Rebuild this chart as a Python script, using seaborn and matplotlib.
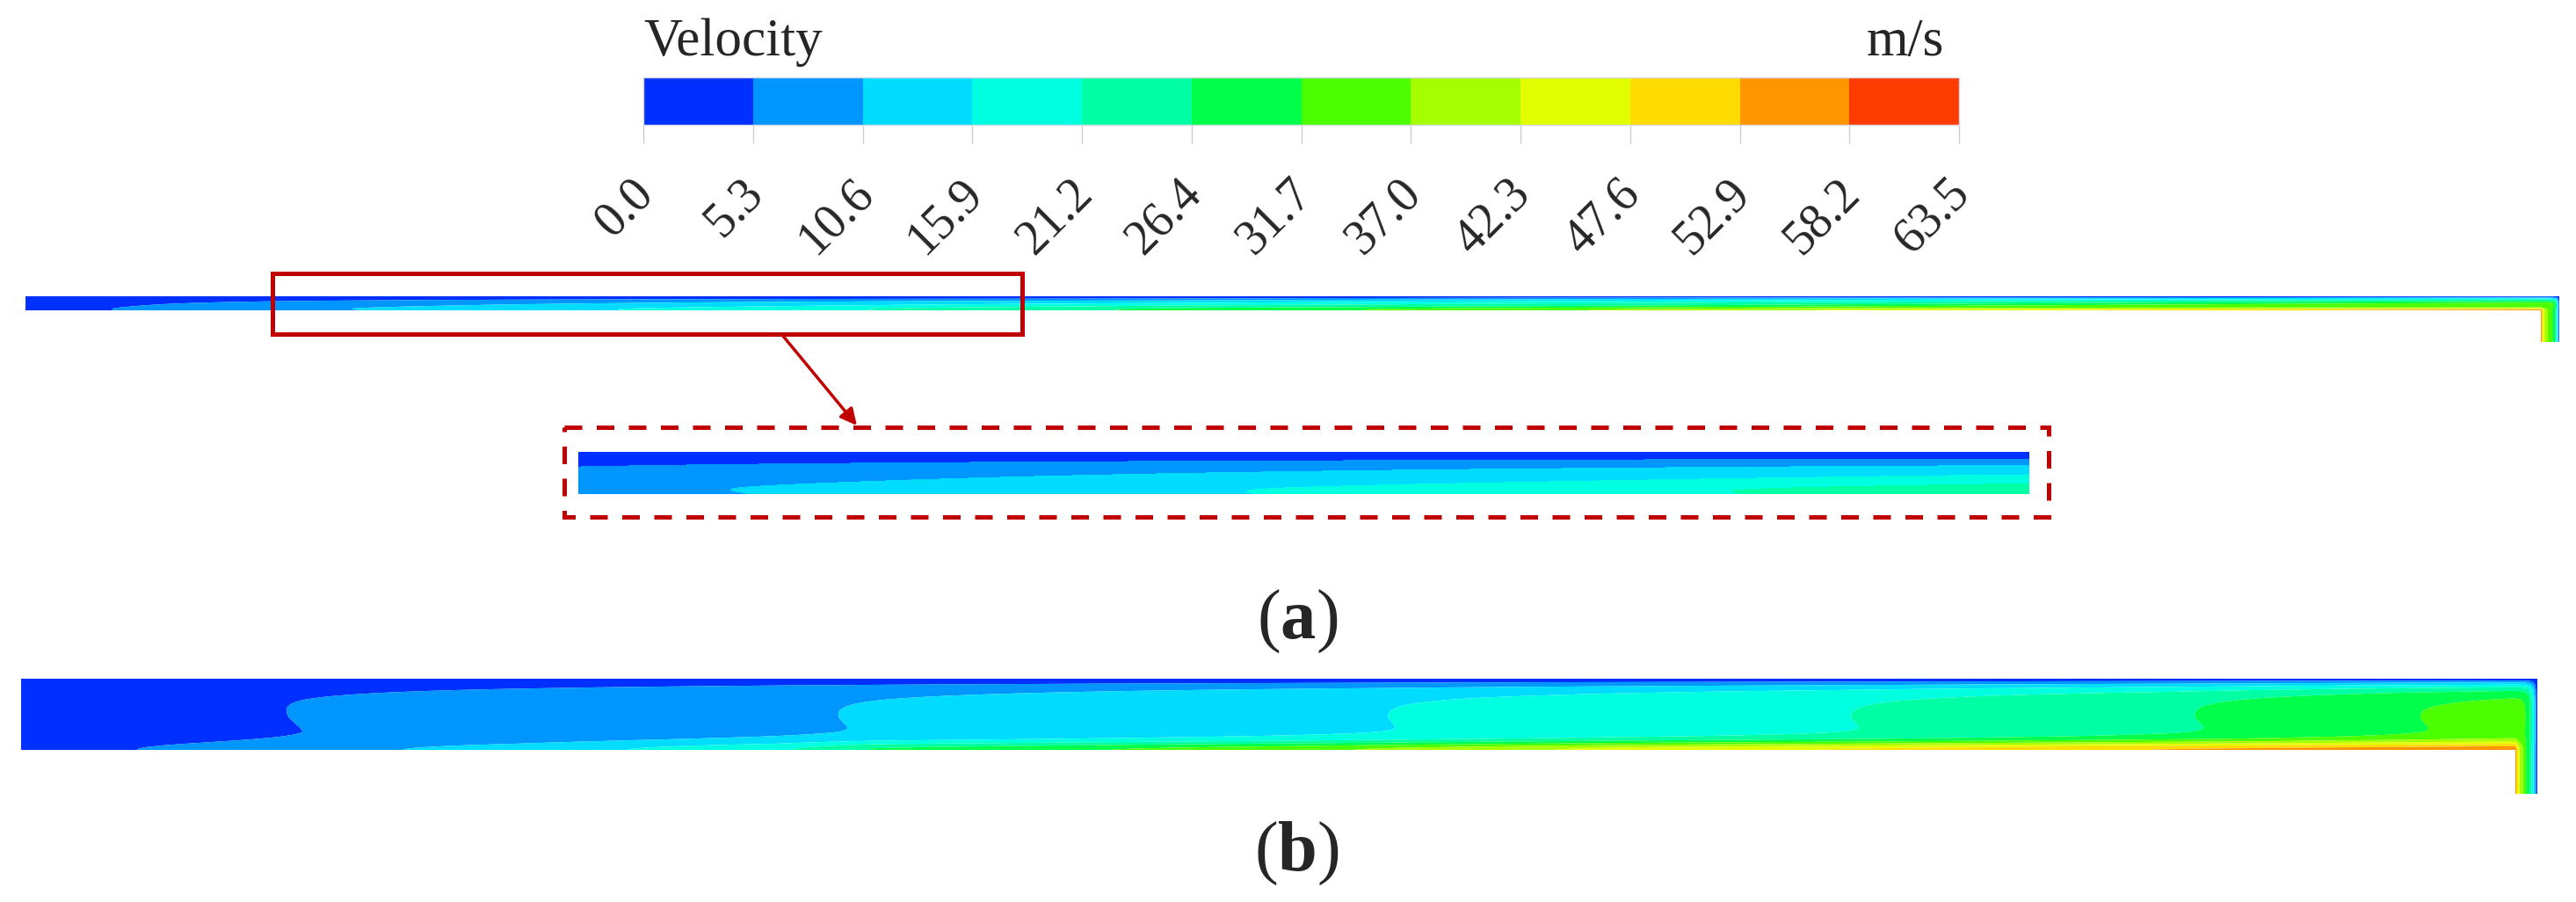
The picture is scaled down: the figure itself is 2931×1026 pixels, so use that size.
import numpy as np
import matplotlib
matplotlib.use("Agg")
import matplotlib.pyplot as plt
import matplotlib.transforms as mtransforms
from matplotlib.colors import ListedColormap, BoundaryNorm
from matplotlib.patches import Rectangle
import seaborn as sns

# colour bar
levels = [0.0, 5.3, 10.6, 15.9, 21.2, 26.4, 31.7, 37.0, 42.3, 47.6, 52.9, 58.2, 63.5]
tick_labels = ["0.0", "5.3", "10.6", "15.9", "21.2", "26.4", "31.7",
               "37.0", "42.3", "47.6", "52.9", "58.2", "63.5"]
band_colors = ["#0030ff", "#0096ff", "#00dcff", "#00ffe1", "#00ffa5", "#00ff4b",
               "#4bff00", "#a5ff00", "#e1ff00", "#ffdc00", "#ff9600", "#ff3c00"]

# panel (b): core velocity along the pipe (fraction of length)
core_pos_b = [0.0, 0.1, 0.318, 0.536, 0.72, 0.857, 0.946, 1.0]
core_vel_b = [2.0, 5.3, 10.6, 15.9, 21.2, 26.4, 31.7, 34.5]
# velocity next to the bottom wall
wall_pos_b = [0.0, 0.08, 0.2, 0.3, 0.34, 0.5, 0.65, 0.85, 1.0]
wall_vel_b = [3.0, 7.0, 13.0, 20.0, 27.0, 35.0, 45.0, 53.0, 57.0]
# how far the contours lag behind across the height (S shape)
lag_y_b = [0.0, 0.1, 0.25, 0.45, 0.7, 1.0]
lag_b = [0.0, 0.009, 0.013, 0.006, 0.0, 0.0]

# panel (a)
core_pos_a = [0.0, 0.06, 0.22, 0.42, 0.6, 0.78, 0.92, 1.0]
core_vel_a = [2.0, 5.3, 10.6, 15.9, 21.2, 26.4, 31.7, 34.0]
wall_pos_a = [0.0, 0.06, 0.2, 0.35, 0.5, 0.7, 0.88, 1.0]
wall_vel_a = [3.0, 7.0, 14.0, 22.0, 30.0, 42.0, 52.0, 56.0]

# outlet leg, across its width (inner wall -> outer wall)
leg_pos = [0.0, 0.2, 0.5, 1.0]
leg_vel = [56.0, 42.0, 34.0, 30.0]

sns.set_style("white")
plt.rcParams["font.family"] = ["Liberation Serif", "DejaVu Serif"]
plt.rcParams["mathtext.fontset"] = "custom"
plt.rcParams["mathtext.rm"] = "Liberation Serif"
plt.rcParams["mathtext.bf"] = "Liberation Serif:bold"

cmap = ListedColormap(sns.color_palette(band_colors))
norm = BoundaryNorm(levels, cmap.N)

W, H = 2931, 1026
fig = plt.figure(figsize=(W / 100, H / 100), dpi=100)
ax = fig.add_axes([0, 0, 1, 1])
ax.set_xlim(0, W)
ax.set_ylim(H, 0)
ax.axis("off")


def velocity(xf, yf, bottom, core_pos, core_vel, shift, d_top, d_bot):
    core = np.interp(xf - shift, core_pos, core_vel)
    v = core * np.tanh(np.clip(1 - yf, 0, None) / d_top)
    w = np.exp(-(np.clip(yf, 0, None) / d_bot) ** 2)
    return v + (bottom - v) * w


def shift_a(xf, yf):
    # contours of (a) lean more and more with distance along the pipe
    return 2.0 * (yf - 0.5) * np.minimum(xf, 0.45)


def shift_b(xf, yf):
    return np.interp(yf, lag_y_b, lag_b)


def draw_pipe(x0, x1, y_top, y_bot, y_leg, w_leg, core_pos, core_vel,
              wall_pos, wall_vel, shift_fn, d_top, d_bot, d_end):
    xs = np.linspace(x0, x1, int(x1 - x0) + 1)
    ys = np.linspace(y_top, y_leg, int((y_leg - y_top) * 3) + 1)
    X, Y = np.meshgrid(xs, ys)
    xf = (X - x0) / (x1 - x0)
    yf = (y_bot - Y) / (y_bot - y_top)
    yc = np.clip(yf, 0, 1)
    u = (X - (x1 - w_leg)) / w_leg
    leg = np.interp(u, leg_pos, leg_vel)
    bottom = np.where(u >= 0, leg, np.interp(xf, wall_pos, wall_vel))
    v = velocity(xf, yc, bottom, core_pos, core_vel, shift_fn(xf, yc), d_top, d_bot)
    v = np.where(yf < 0, leg, v)
    v = v * np.tanh(np.clip(x1 - X, 0, None) / d_end)
    v = np.ma.masked_where((yf < 0) & (u < 0), np.clip(v, 0.01, 63.4))
    ax.contourf(X, Y, v, levels=levels, cmap=cmap, norm=norm, antialiased=True)


# panel (a): whole pipe
draw_pipe(29, 2912, 337, 353, 389, 21, core_pos_a, core_vel_a,
          wall_pos_a, wall_vel_a, shift_a, d_top=0.2, d_bot=0.15, d_end=4)

# zoomed part of panel (a)
xa0, xa1, ya0, ya1 = 658, 2309, 514, 562
f0, f1 = 0.0975, 0.393
X, Y = np.meshgrid(np.linspace(xa0, xa1, xa1 - xa0 + 1),
                   np.linspace(ya0, ya1, 3 * (ya1 - ya0) + 1))
xf = f0 + (X - xa0) / (xa1 - xa0) * (f1 - f0)
yf = (ya1 - Y) / (ya1 - ya0)
v = velocity(xf, yf, np.interp(xf, wall_pos_a, wall_vel_a), core_pos_a, core_vel_a,
             shift_a(xf, yf), 0.2, 0.15)
ax.contourf(X, Y, np.clip(v, 0.01, 63.4), levels=levels, cmap=cmap, norm=norm)

# panel (b)
draw_pipe(24, 2887, 772, 853, 903, 25, core_pos_b, core_vel_b,
          wall_pos_b, wall_vel_b, shift_b, d_top=0.165, d_bot=0.12, d_end=8)

# zoom box, arrow and dashed frame
red = "#c00000"
ax.add_patch(Rectangle((310, 311), 853, 69, fill=False, ec=red, lw=3.6))
ax.add_patch(Rectangle((642, 486), 1689, 102, fill=False, ec=red, lw=3.6, ls=(0, (4, 3.3))))
ax.annotate("", xy=(975, 484), xytext=(890, 381),
            arrowprops=dict(arrowstyle="-|>", color=red, lw=2.5, mutation_scale=28,
                            shrinkA=0, shrinkB=0))

# panel labels
ax.text(1476, 707, r"($\mathbf{a}$)", fontsize=58, ha="center", va="center")
ax.text(1475, 971, r"($\mathbf{b}$)", fontsize=58, ha="center", va="center")

# colour bar
ax.text(732, 63, "Velocity", fontsize=44, ha="left", va="baseline")
ax.text(2212, 63, "m/s", fontsize=44, ha="right", va="baseline")
cax = fig.add_axes([732 / W, 1 - 142 / H, (2229 - 732) / W, 54 / H])
sm = plt.cm.ScalarMappable(norm=norm, cmap=cmap)
cb = fig.colorbar(sm, cax=cax, orientation="horizontal", ticks=levels)
cb.outline.set_edgecolor("#d8d8e8")
cb.outline.set_linewidth(1)
cax.tick_params(axis="x", length=15, width=1, color="#cccccc", pad=22, labelsize=40)
cax.set_xticklabels(tick_labels, rotation=45, ha="right")
offset = mtransforms.ScaledTranslation(0.22, 0, fig.dpi_scale_trans)
for lbl in cax.get_xticklabels():
    lbl.set_transform(lbl.get_transform() + offset)

fig.savefig("out.png", dpi=100, facecolor="white")
